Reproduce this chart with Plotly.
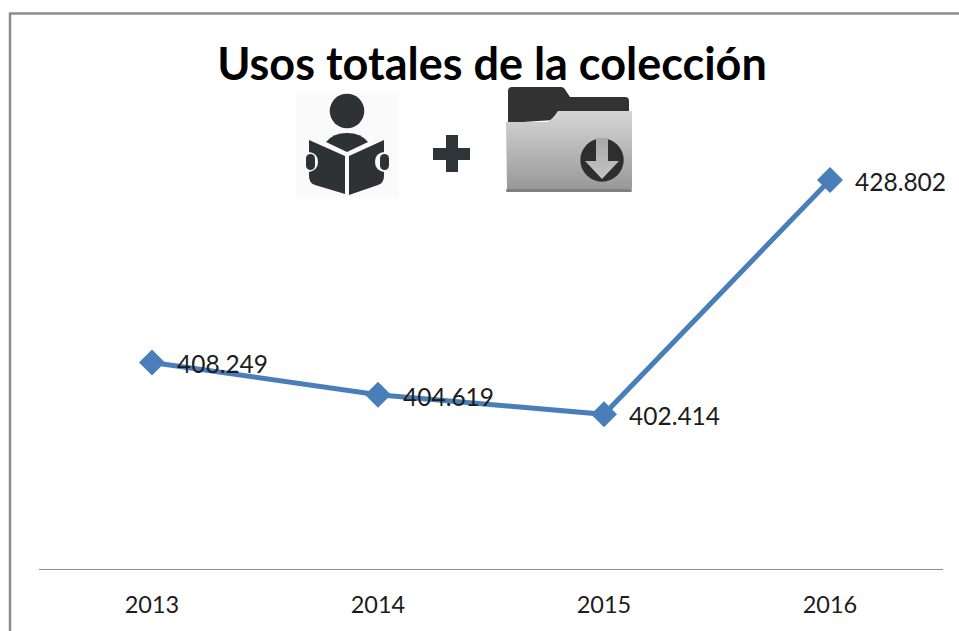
import base64
import plotly.graph_objects as go

W, H = 959, 631
L, R, T, B = 39, 16, 36, 62

years = ["2013", "2014", "2015", "2016"]
usos = [408249, 404619, 402414, 428802]
etiquetas = ["408.249", "404.619", "402.414", "428.802"]
titulo = "Usos totales de la colección"

ICON_X, ICON_Y, ICON_W, ICON_H = 290, 80, 360, 125
icons_svg = f'''<svg xmlns="http://www.w3.org/2000/svg" width="{ICON_W}" height="{ICON_H}" viewBox="290 80 {ICON_W} {ICON_H}">
<defs>
<linearGradient id="g" x1="0" y1="0" x2="0" y2="1"><stop offset="0" stop-color="#d6d6d6"/><stop offset="1" stop-color="#989898"/></linearGradient>
<linearGradient id="a" x1="0" y1="0" x2="0" y2="1"><stop offset="0" stop-color="#a8a8a8"/><stop offset="1" stop-color="#c4c4c4"/></linearGradient>
<filter id="b" x="-5%" y="-5%" width="110%" height="110%"><feGaussianBlur stdDeviation="0.5"/></filter>
</defs>
<g filter="url(#b)">
<rect x="296" y="93" width="103" height="104" fill="#fafafa"/>
<g fill="#2f3133">
<circle cx="347" cy="111" r="17.3"/>
<path d="M326 142 Q333 133 347 133 Q361 133 368 142 L347 152 Z"/>
<path d="M309 140 L345 156 L345 194 L315 185 Q309 183 309 176 L309 172 Q318 170 318 162 Q318 153 309 152 Z"/>
<path d="M384 140 L349 156 L349 195 L378 185 Q384 183 384 176 L384 172 Q375 170 375 162 Q375 153 384 152 Z"/>
<rect x="306" y="154" width="9" height="16" rx="4.5"/>
<rect x="380" y="154" width="9" height="16" rx="4.5"/>
</g>
<rect x="433" y="148" width="37" height="12" fill="#2f3438"/>
<rect x="446" y="135" width="12" height="37" fill="#2f3438"/>
<path d="M508 123 L508 91 Q508 87 512 87 L561 87 Q564 87 566 91 L570 97 L625 97 Q629 97 629 101 L629 115 L508 123 Z" fill="#323232"/>
<path d="M506 122 L547 122 Q552 120 558 111 L632 111 L632 189 L507 190 Z" fill="url(#g)"/>
<rect x="506" y="189" width="126" height="3" rx="1.5" fill="#7f7f7f"/>
<circle cx="602" cy="160" r="21.7" fill="#2f2f2f"/>
<path d="M596 138 L608 138 L608 161 L619 161 L602 179 L585 161 L596 161 Z" fill="url(#a)"/>
</g></svg>'''
icons_uri = "data:image/svg+xml;base64," + base64.b64encode(icons_svg.encode()).decode()


def px(x):
    return (x - L) / (W - L - R)


def py(y):
    return 1 - (y - T) / (H - T - B)


fig = go.Figure(
    go.Scatter(
        x=years,
        y=usos,
        mode="lines+markers",
        line=dict(color="#4a7ebb", width=5),
        marker=dict(symbol="diamond", size=20, color="#4a7ebb"),
        cliponaxis=False,
        hoverinfo="skip",
    )
)

for i, (value, label) in enumerate(zip(usos, etiquetas)):
    fig.add_annotation(
        x=i, y=value, text=label, showarrow=False,
        xanchor="left", yanchor="middle", xshift=23, yshift=-1.5,
        font=dict(family="Lato", size=24.5, color="#1c1c1c"),
    )

border = "#8c8c8c"
fig.add_shape(type="line", xref="paper", yref="paper", x0=px(9), x1=px(959), y0=py(13.5), y1=py(13.5),
              line=dict(color=border, width=2.5))
fig.add_shape(type="line", xref="paper", yref="paper", x0=px(10), x1=px(10), y0=py(13), y1=py(640),
              line=dict(color=border, width=2.5))

fig.add_layout_image(
    source=icons_uri, xref="paper", yref="paper", x=px(ICON_X), y=py(ICON_Y),
    sizex=ICON_W / (W - L - R), sizey=ICON_H / (H - T - B),
    xanchor="left", yanchor="top", sizing="stretch", layer="above",
)

fig.update_layout(
    width=W,
    height=H,
    margin=dict(l=L, r=R, t=T, b=B, pad=0),
    paper_bgcolor="white",
    plot_bgcolor="white",
    showlegend=False,
    title=dict(
        text=f"<b>{titulo}</b>",
        font=dict(family="Lato", size=45, color="black"),
        x=492 / W,
        xref="container",
        xanchor="center",
        y=1 - 64 / H,
        yref="container",
        yanchor="middle",
    ),
    xaxis=dict(
        type="category",
        range=[-0.5, 3.5],
        showgrid=False,
        zeroline=False,
        showline=True,
        linecolor="#8f8f8f",
        linewidth=1,
        ticks="outside",
        ticklen=15,
        tickcolor="rgba(0,0,0,0)",
        tickfont=dict(family="Lato", size=23.5, color="#1c1c1c"),
    ),
    yaxis=dict(range=[385000, 445000], visible=False),
)

fig.write_html(
    "out.html",
    config=dict(displayModeBar=False),
    post_script="document.body.style.margin='0';document.documentElement.style.overflow='hidden';",
)
